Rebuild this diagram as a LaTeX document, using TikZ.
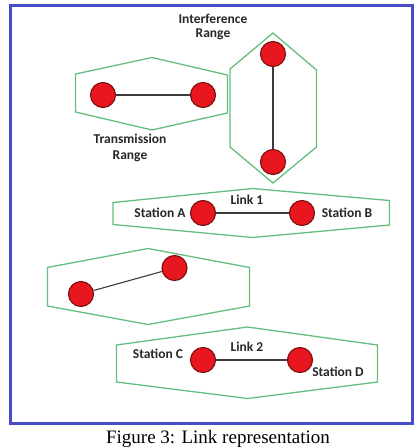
\documentclass[tikz,border=0pt]{standalone}
\usepackage{fontspec}
\setmainfont{Liberation Serif}
\newfontfamily\lblfont{Carlito}
\begin{document}
\begin{tikzpicture}[x=1pt,y=-1pt,
  rangehex/.style={draw=rangegreen,line width=1.3pt,line join=miter},
  stationnode/.style={circle,draw=stationedge,fill=stationred,line width=1.1pt,minimum size=25pt,inner sep=0pt},
  linkline/.style={draw=linkgray,line width=1.1pt},
  lbl/.style={font=\lblfont\bfseries\fontsize{13.5}{13.5}\selectfont,text=lbltext,inner sep=0pt},
  frameline/.style={draw=frameblue,line width=3pt}
]
\definecolor{rangegreen}{RGB}{100,190,125}
\definecolor{stationred}{RGB}{232,22,30}
\definecolor{stationedge}{RGB}{120,15,15}
\definecolor{linkgray}{RGB}{60,60,60}
\definecolor{lbltext}{RGB}{40,40,40}
\definecolor{frameblue}{RGB}{72,76,200}
\useasboundingbox (0,0) rectangle (415,448);
\fill[white] (0,0) rectangle (415,448);
% frame
\draw[frameline] (10.5,5) rectangle (412,423.5);
% hexagon ranges
\draw[rangehex] (75.5,74) -- (152,57.5) -- (227.5,75) -- (227.5,113) -- (152,130) -- (75.5,112) -- cycle;
\draw[rangehex] (273,33) -- (316.5,70) -- (316.5,147) -- (273,183) -- (230,147) -- (230,69) -- cycle;
\draw[rangehex] (113,202.5) -- (252.5,188.5) -- (389.5,200.5) -- (389.5,225) -- (252.5,237.5) -- (113,224.5) -- cycle;
\draw[rangehex] (47.5,267.5) -- (148,248.5) -- (249.5,267.5) -- (249.5,306) -- (148,324.5) -- (47.5,306) -- cycle;
\draw[rangehex] (116.5,345) -- (247.5,327) -- (377.5,345) -- (377.5,382) -- (247.5,398.5) -- (116.5,382) -- cycle;
% stations
\node[stationnode] (t1) at (103,95) {};
\node[stationnode] (t2) at (203,95) {};
\node[stationnode] (v1) at (273,54) {};
\node[stationnode] (v2) at (273,162) {};
\node[stationnode] (sa) at (203,213) {};
\node[stationnode] (sb) at (302,213) {};
\node[stationnode] (d1) at (81,294) {};
\node[stationnode] (d2) at (174.5,268) {};
\node[stationnode] (sc) at (203,360) {};
\node[stationnode] (sd) at (300,360) {};
% links
\draw[linkline] (t1) -- (t2);
\draw[linkline] (v1) -- (v2);
\draw[linkline] (sa) -- (sb);
\draw[linkline] (d1) -- (d2);
\draw[linkline] (sc) -- (sd);
% labels
\node[lbl,align=center] (ir) at (213,27) {Interference\\Range};
\node[lbl,align=center] (tr) at (130,148) {Transmission\\[3pt]Range};
\node[lbl] (la) at (160,213) {Station A};
\node[lbl] (lb) at (347,213) {Station B};
\node[lbl] (l1) at (247,200) {Link 1};
\node[lbl] (lc) at (158,354) {Station C};
\node[lbl] (l2) at (247,347) {Link 2};
\node[lbl] (ld) at (338,372) {Station D};
% caption
\node[anchor=base,inner sep=0pt,font=\fontsize{19}{20}\selectfont] (cap) at (218,443) {Figure 3: Link representation};
\end{tikzpicture}
\end{document}
